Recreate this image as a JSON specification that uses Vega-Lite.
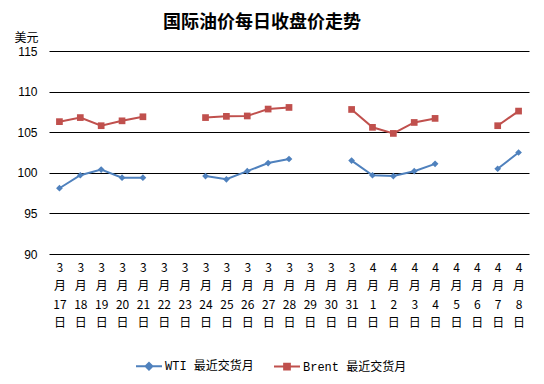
{
  "$schema": "https://vega.github.io/schema/vega-lite/v6.json",
  "width": 480,
  "height": 203,
  "autosize": "none",
  "padding": {"left": 49, "top": 51, "right": 15, "bottom": 130},
  "background": "white",
  "config": {"view": {"stroke": null}, "font": "Liberation Sans"},
  "title": {"text": "国际油价每日收盘价走势", "font": "Noto Sans CJK SC", "fontSize": 18, "fontWeight": "bold", "anchor": "middle", "dx": -27, "offset": -1, "color": "black"},
  "data": {"values": [
    {"date": "3月17日", "series": "WTI 最近交货月", "value": 98.1},
    {"date": "3月18日", "series": "WTI 最近交货月", "value": 99.7},
    {"date": "3月19日", "series": "WTI 最近交货月", "value": 100.4},
    {"date": "3月20日", "series": "WTI 最近交货月", "value": 99.4},
    {"date": "3月21日", "series": "WTI 最近交货月", "value": 99.4},
    {"date": "3月22日", "series": "WTI 最近交货月", "value": null},
    {"date": "3月23日", "series": "WTI 最近交货月", "value": null},
    {"date": "3月24日", "series": "WTI 最近交货月", "value": 99.6},
    {"date": "3月25日", "series": "WTI 最近交货月", "value": 99.2},
    {"date": "3月26日", "series": "WTI 最近交货月", "value": 100.2},
    {"date": "3月27日", "series": "WTI 最近交货月", "value": 101.2},
    {"date": "3月28日", "series": "WTI 最近交货月", "value": 101.7},
    {"date": "3月29日", "series": "WTI 最近交货月", "value": null},
    {"date": "3月30日", "series": "WTI 最近交货月", "value": null},
    {"date": "3月31日", "series": "WTI 最近交货月", "value": 101.5},
    {"date": "4月1日", "series": "WTI 最近交货月", "value": 99.7},
    {"date": "4月2日", "series": "WTI 最近交货月", "value": 99.6},
    {"date": "4月3日", "series": "WTI 最近交货月", "value": 100.2},
    {"date": "4月4日", "series": "WTI 最近交货月", "value": 101.1},
    {"date": "4月5日", "series": "WTI 最近交货月", "value": null},
    {"date": "4月6日", "series": "WTI 最近交货月", "value": null},
    {"date": "4月7日", "series": "WTI 最近交货月", "value": 100.5},
    {"date": "4月8日", "series": "WTI 最近交货月", "value": 102.5},
    {"date": "3月17日", "series": "Brent 最近交货月", "value": 106.3},
    {"date": "3月18日", "series": "Brent 最近交货月", "value": 106.8},
    {"date": "3月19日", "series": "Brent 最近交货月", "value": 105.8},
    {"date": "3月20日", "series": "Brent 最近交货月", "value": 106.4},
    {"date": "3月21日", "series": "Brent 最近交货月", "value": 106.9},
    {"date": "3月22日", "series": "Brent 最近交货月", "value": null},
    {"date": "3月23日", "series": "Brent 最近交货月", "value": null},
    {"date": "3月24日", "series": "Brent 最近交货月", "value": 106.8},
    {"date": "3月25日", "series": "Brent 最近交货月", "value": 106.95},
    {"date": "3月26日", "series": "Brent 最近交货月", "value": 107.0},
    {"date": "3月27日", "series": "Brent 最近交货月", "value": 107.85},
    {"date": "3月28日", "series": "Brent 最近交货月", "value": 108.05},
    {"date": "3月29日", "series": "Brent 最近交货月", "value": null},
    {"date": "3月30日", "series": "Brent 最近交货月", "value": null},
    {"date": "3月31日", "series": "Brent 最近交货月", "value": 107.8},
    {"date": "4月1日", "series": "Brent 最近交货月", "value": 105.6},
    {"date": "4月2日", "series": "Brent 最近交货月", "value": 104.85},
    {"date": "4月3日", "series": "Brent 最近交货月", "value": 106.2},
    {"date": "4月4日", "series": "Brent 最近交货月", "value": 106.7},
    {"date": "4月5日", "series": "Brent 最近交货月", "value": null},
    {"date": "4月6日", "series": "Brent 最近交货月", "value": null},
    {"date": "4月7日", "series": "Brent 最近交货月", "value": 105.8},
    {"date": "4月8日", "series": "Brent 最近交货月", "value": 107.6}
  ]},
  "encoding": {
    "x": {"field": "date", "type": "ordinal",
      "scale": {"type": "point", "padding": 0.5, "domain": ["3月17日","3月18日","3月19日","3月20日","3月21日","3月22日","3月23日","3月24日","3月25日","3月26日","3月27日","3月28日","3月29日","3月30日","3月31日","4月1日","4月2日","4月3日","4月4日","4月5日","4月6日","4月7日","4月8日"]},
      "axis": {"title": null, "domain": false, "ticks": false, "grid": false, "labelAngle": 0,
        "labelExpr": "[split(datum.value,'月')[0], '月', replace(split(datum.value,'月')[1],'日',''), '日']",
        "labelFont": "Noto Sans CJK SC", "labelFontSize": 12, "labelLineHeight": 18.5, "labelColor": "black", "labelPadding": 8, "labelBaseline": "top"}},
    "y": {"field": "value", "type": "quantitative",
      "scale": {"domain": [90, 115], "nice": false, "zero": false},
      "axis": {"values": [90, 95, 100, 105, 110, 115], "domain": false, "ticks": false, "gridColor": "black", "gridOpacity": 1, "gridWidth": 1,
        "labelFontSize": 12, "labelColor": "black", "labelPadding": 12,
        "title": "美元", "titleAngle": 0, "titleFont": "Noto Sans CJK SC", "titleFontSize": 12, "titleFontWeight": "normal", "titleColor": "black", "titleX": -23, "titleY": -14, "titleAlign": "center", "titleBaseline": "middle"}},
    "color": {"field": "series", "type": "nominal",
      "scale": {"domain": ["WTI 最近交货月", "Brent 最近交货月"], "range": ["#4F81BD", "#C0504D"]},
      "legend": {"title": null, "orient": "none", "legendX": 86, "legendY": 301, "direction": "horizontal", "labelFont": "Liberation Mono, Noto Sans CJK SC", "labelFontSize": 12, "labelColor": "black", "symbolSize": 676, "symbolOpacity": 1, "symbolStrokeWidth": 2, "columnPadding": 16, "labelOffset": 2}}
  },
  "layer": [
    {"mark": {"type": "line", "strokeWidth": 2}},
    {"transform": [{"filter": "datum.series === 'WTI 最近交货月'"}],
      "mark": {"type": "point", "shape": "diamond", "filled": true, "opacity": 1, "size": 45}},
    {"transform": [{"filter": "datum.series === 'Brent 最近交货月'"}],
      "mark": {"type": "point", "shape": "square", "filled": true, "opacity": 1, "size": 45}},
    {"mark": {"type": "point", "filled": false, "opacity": 0, "strokeWidth": 2},
      "encoding": {
        "shape": {"field": "series", "type": "nominal",
          "scale": {"domain": ["WTI 最近交货月", "Brent 最近交货月"],
            "range": ["M-1,0H1M0,-0.26L0.26,0L0,0.26L-0.26,0ZM0,-0.12L0.12,0L0,0.12L-0.12,0Z", "M-1,0H1M-0.22,-0.22H0.22V0.22H-0.22ZM-0.22,-0.08H0.22M-0.22,0.08H0.22"]},
          "legend": {"title": null}}
      }}
  ]
}
